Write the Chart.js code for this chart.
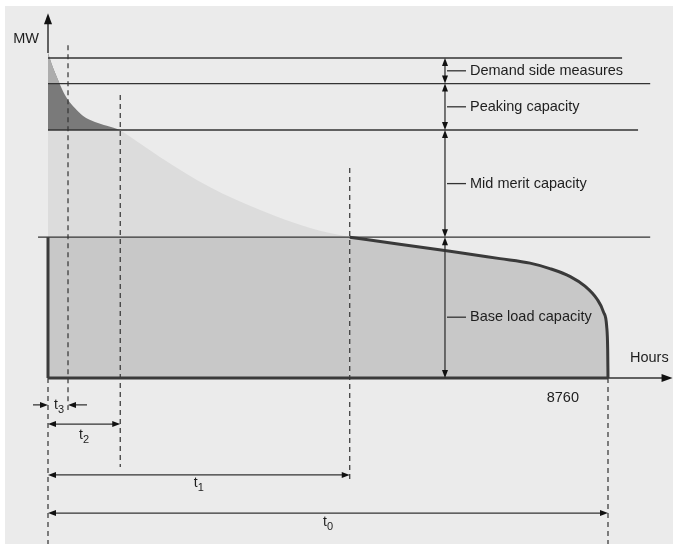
<!DOCTYPE html>
<html>
<head>
<meta charset="utf-8">
<script src="https://cdn.jsdelivr.net/npm/chart.js@4.4.1/dist/chart.umd.min.js"></script>
<style>
  html, body { margin: 0; padding: 0; background: #fff; }
  #wrap { width: 673px; height: 544px; position: relative; }
</style>
</head>
<body>
<div id="wrap"><canvas id="chart" width="673" height="544"></canvas></div>
<script>
// load duration curve: hours of the year vs MW
const levelNames = ['Demand side measures', 'Peaking capacity', 'Mid merit capacity', 'Base load capacity'];
const levelMW = [100, 92, 77.5, 44, 0];
const levelLineEnd = [8980, 9420, 9230, 9420];

const peakHours = [0, 60, 125, 190, 250, 313, 420, 550, 735, 920, 1130];
const peakMW = [101.6, 98, 94.7, 91.6, 89, 86.9, 84.4, 81.9, 80, 78.8, 77.5];

const midHours = [1130, 1750, 2530, 3320, 4100, 4720];
const midMW = [77.5, 69.1, 59.7, 52.5, 46.9, 44];

const baseHours = [4720, 5500, 6290, 7070, 7540, 7850, 8170, 8400, 8590, 8690, 8740, 8755, 8760];
const baseMW = [44, 41.8, 39.6, 37.3, 35.9, 34.2, 31.7, 28.7, 24.6, 20.6, 16, 9, 0];

const tNames = ['0', '1', '2', '3'];
const tHours = [8760, 4720, 1130, 313];
const yearHours = 8760;

const pts = (xs, ys) => xs.map((x, i) => ({x: x, y: ys[i]}));

const INK = '#333333';
const TXT = '#1e1e1e';
const FONT = '"Liberation Sans", Arial, sans-serif';

function ds(data, o) {
  return Object.assign({
    data: data, pointRadius: 0, borderWidth: 0, borderColor: INK,
    fill: false, tension: 0, cubicInterpolationMode: 'default'
  }, o);
}

const datasets = [];
// filled areas (bottom first)
datasets.push(ds(pts([0, tHours[1]], [levelMW[3], levelMW[3]]), {fill: 'origin', backgroundColor: '#c8c8c8'}));
datasets.push(ds(pts(baseHours, baseMW), {fill: 'origin', backgroundColor: '#c8c8c8',
  borderWidth: 3, borderColor: '#3a3a3a', cubicInterpolationMode: 'monotone'}));
datasets.push(ds(pts([0, tHours[2]], [levelMW[2], levelMW[2]]), {fill: {value: levelMW[3]}, backgroundColor: '#dcdcdc'}));
datasets.push(ds(pts(midHours, midMW), {fill: {value: levelMW[3]}, backgroundColor: '#dcdcdc',
  cubicInterpolationMode: 'monotone'}));
datasets.push(ds(pts(peakHours, peakMW), {fill: {target: {value: levelMW[2]}, above: '#7a7a7a', below: 'rgba(0,0,0,0)'},
  cubicInterpolationMode: 'monotone'}));
datasets.push(ds(pts(peakHours, peakMW), {fill: {target: {value: levelMW[1]}, above: '#adadad', below: 'rgba(0,0,0,0)'},
  cubicInterpolationMode: 'monotone'}));

// capacity level lines
levelNames.forEach((n, i) => {
  const x0 = i === 3 ? -156 : 0;
  datasets.push(ds(pts([x0, levelLineEnd[i]], [levelMW[i], levelMW[i]]), {borderWidth: 1.3}));
});

// dashed time markers
const dashTop = [0, 65.6, 88.4, 104];
const dashBottom = [-52, -32.2, -27.8, -10];
tHours.forEach((h, i) => {
  datasets.push(ds(pts([h, h], [dashTop[i], dashBottom[i]]), {borderWidth: 1.2, borderDash: [5, 4]}));
});
datasets.push(ds(pts([0, 0], [0, -52]), {borderWidth: 1.2, borderDash: [5, 4]}));

// axes
datasets.push(ds(pts([0, 0], [peakMW[0], 112]), {borderWidth: 1.5}));
datasets.push(ds(pts([0, 0], [0, levelMW[3]]), {borderWidth: 3, borderColor: '#3a3a3a'}));
datasets.push(ds(pts([0, yearHours], [0, 0]), {borderWidth: 3, borderColor: '#3a3a3a'}));
datasets.push(ds(pts([yearHours, 9700], [0, 0]), {borderWidth: 1.3}));

datasets.forEach((d, i) => { d.order = 100 - i; });

function head(ctx, x, y, ang, len, w) {
  ctx.save();
  ctx.translate(x, y);
  ctx.rotate(ang);
  ctx.beginPath();
  ctx.moveTo(0, 0);
  ctx.lineTo(-len, -w);
  ctx.lineTo(-len, w);
  ctx.closePath();
  ctx.fill();
  ctx.restore();
}

function tLabel(ctx, x, y, sub) {
  ctx.font = '14px ' + FONT;
  const w1 = ctx.measureText('t').width;
  ctx.font = '11px ' + FONT;
  const w2 = ctx.measureText(sub).width;
  const left = x - (w1 + w2) / 2;
  ctx.textAlign = 'left';
  ctx.textBaseline = 'middle';
  ctx.font = '14px ' + FONT;
  ctx.fillText('t', left, y);
  ctx.font = '11px ' + FONT;
  ctx.fillText(sub, left + w1, y + 5);
}

const annotate = {
  id: 'annotate',
  afterDatasetsDraw(chart) {
    const ctx = chart.ctx;
    const xs = chart.scales.x, ys = chart.scales.y;
    const px = v => xs.getPixelForValue(v), py = v => ys.getPixelForValue(v);
    ctx.save();
    ctx.fillStyle = '#111';
    ctx.strokeStyle = INK;
    ctx.lineWidth = 1.3;

    // axis arrowheads
    head(ctx, px(0), py(114), -Math.PI / 2, 11, 4);
    head(ctx, px(9770), py(0), 0, 11, 4);

    // capacity measures
    const ax = px(6210);
    for (let i = 0; i < levelNames.length; i++) {
      const a = py(levelMW[i]), b = py(levelMW[i + 1]);
      ctx.beginPath();
      ctx.moveTo(ax, a + 4);
      ctx.lineTo(ax, b - 4);
      ctx.stroke();
      head(ctx, ax, a, -Math.PI / 2, 8, 3);
      head(ctx, ax, b, Math.PI / 2, 8, 3);
      const ly = i === 3 ? py(19) : (a + b) / 2;
      ctx.beginPath();
      ctx.moveTo(ax + 2, ly);
      ctx.lineTo(ax + 21, ly);
      ctx.stroke();
      ctx.fillStyle = TXT;
      ctx.font = '14.5px ' + FONT;
      ctx.textAlign = 'left';
      ctx.textBaseline = 'middle';
      ctx.fillText(levelNames[i], ax + 25, ly);
      ctx.fillStyle = '#111';
    }

    // time spans
    const spanY = [-42.2, -30.3, -14.4];
    const gap = [9, 8, 11];
    for (let i = 0; i < 3; i++) {
      const y = py(spanY[i]), a = px(0), b = px(tHours[i]);
      ctx.beginPath();
      ctx.moveTo(a + 4, y);
      ctx.lineTo(b - 4, y);
      ctx.stroke();
      head(ctx, a, y, Math.PI, 8, 3);
      head(ctx, b, y, 0, 8, 3);
      ctx.fillStyle = TXT;
      tLabel(ctx, (a + b) / 2, y + gap[i], tNames[i]);
      ctx.fillStyle = '#111';
    }
    // t3: arrows pointing inwards
    const y3 = py(-8.4), a3 = px(0), b3 = px(tHours[3]);
    ctx.beginPath();
    ctx.moveTo(a3 - 15, y3); ctx.lineTo(a3 - 4, y3);
    ctx.moveTo(b3 + 19, y3); ctx.lineTo(b3 + 4, y3);
    ctx.stroke();
    head(ctx, a3, y3, 0, 8, 3);
    head(ctx, b3, y3, Math.PI, 8, 3);
    ctx.fillStyle = TXT;
    tLabel(ctx, (a3 + b3) / 2 + 1, y3, tNames[3]);

    // axis texts
    ctx.font = '14.5px ' + FONT;
    ctx.textBaseline = 'middle';
    ctx.textAlign = 'right';
    ctx.fillText('MW', px(0) - 9, py(106));
    ctx.fillText(String(yearHours), px(yearHours) - 29, py(-6.3));
    ctx.textAlign = 'left';
    ctx.fillText('Hours', px(9104), py(6.2));
    ctx.restore();
  }
};

const background = {
  id: 'background',
  beforeDraw(chart) {
    const ctx = chart.ctx;
    ctx.save();
    ctx.fillStyle = '#ffffff';
    ctx.fillRect(0, 0, chart.width, chart.height);
    ctx.fillStyle = '#ebebeb';
    ctx.fillRect(5, 6, chart.width - 5, chart.height - 6);
    ctx.restore();
  }
};

new Chart(document.getElementById('chart'), {
  type: 'line',
  data: {datasets: datasets},
  options: {
    responsive: false,
    animation: false,
    events: [],
    layout: {padding: 0},
    plugins: {legend: {display: false}, tooltip: {enabled: false}},
    scales: {
      x: {type: 'linear', display: false, min: -750.86, max: 9776.79},
      y: {type: 'linear', display: false, min: -51.875, max: 118.125}
    }
  },
  plugins: [background, annotate]
});
</script>
</body>
</html>
